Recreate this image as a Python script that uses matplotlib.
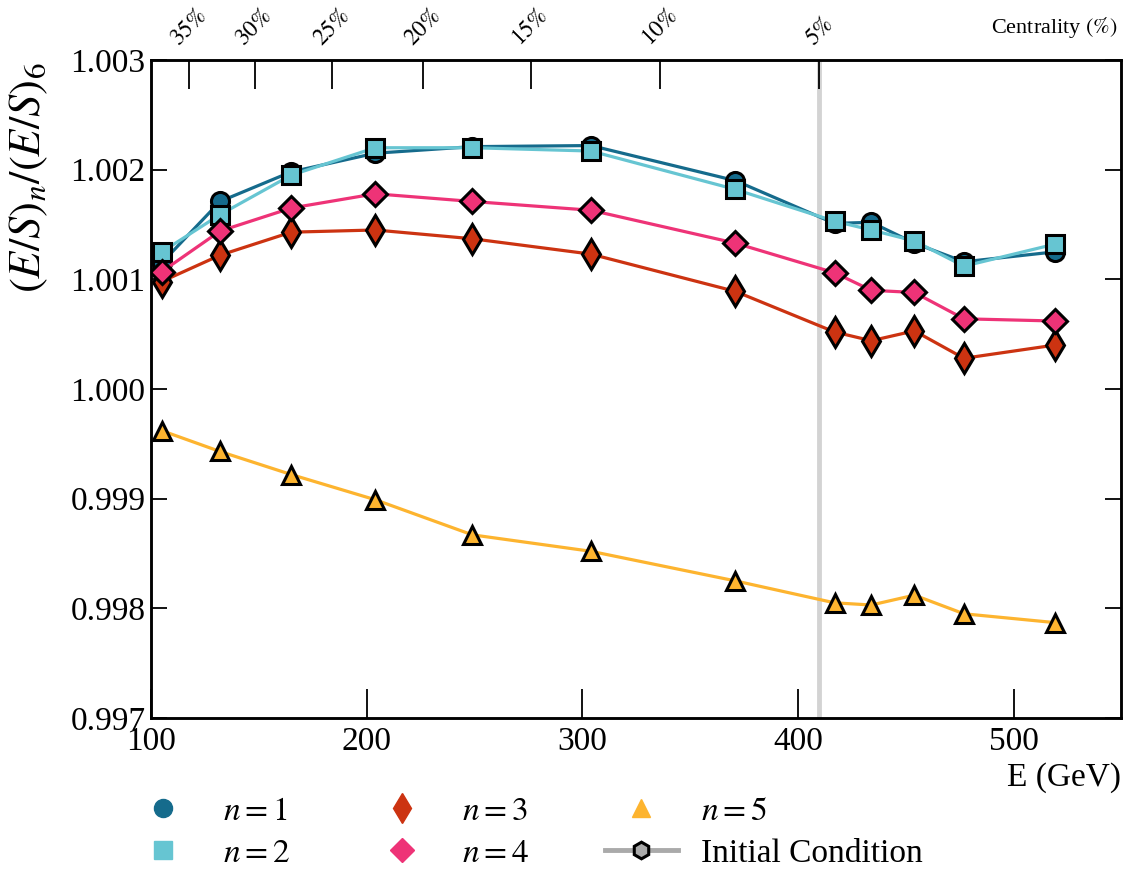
import matplotlib
matplotlib.use('Agg')
import matplotlib.pyplot as plt
from matplotlib.lines import Line2D

plt.rcParams['font.family'] = ['Liberation Serif', 'DejaVu Serif']
plt.rcParams['mathtext.fontset'] = 'stix'

# collision energies and ratios
energy = [105, 132, 165, 204, 249, 304, 371, 417, 434, 454, 477, 519]
ratio_n1 = [1.00115, 1.00171, 1.00198, 1.00215, 1.00221, 1.00222,
            1.00190, 1.00151, 1.00152, 1.00133, 1.00116, 1.00125]
ratio_n2 = [1.00125, 1.00159, 1.00195, 1.00220, 1.00220, 1.00217,
            1.00182, 1.00153, 1.00145, 1.00135, 1.00112, 1.00132]
ratio_n3 = [1.00098, 1.00122, 1.00143, 1.00145, 1.00137, 1.00123,
            1.00089, 1.00052, 1.00044, 1.00053, 1.00028, 1.00040]
ratio_n4 = [1.00107, 1.00144, 1.00165, 1.00178, 1.00171, 1.00163,
            1.00133, 1.00106, 1.00090, 1.00088, 1.00064, 1.00062]
ratio_n5 = [0.99962, 0.99943, 0.99922, 0.99899, 0.99867, 0.99852,
            0.99825, 0.99805, 0.99803, 0.99812, 0.99795, 0.99787]

# top axis: energy where each centrality class sits
centrality_energy = [117.5, 148, 184, 226, 276, 336, 410]
centrality_labels = ['35', '30', '25', '20', '15', '10', '5']
initial_condition_energy = 410

series = [
    (ratio_n1, '#156b8c', 'o', 13, r'$n=1$'),
    (ratio_n2, '#66c5d2', 's', 13, r'$n=2$'),
    (ratio_n3, '#cc3311', 'd', 15, r'$n=3$'),
    (ratio_n4, '#ee3377', 'D', 12, r'$n=4$'),
    (ratio_n5, '#fdb42f', '^', 13, r'$n=5$'),
]

fig = plt.figure(figsize=(11.27, 8.71), dpi=100)
ax = fig.add_axes([0.134, 0.1757, 0.861, 0.7554])

ax.axvline(initial_condition_energy, color='#d3d3d3', lw=3.5, zorder=1)

handles = []
for vals, col, mk, ms, lab in series:
    ax.plot(energy, vals, color=col, lw=2.3, marker=mk, markersize=ms,
            markerfacecolor=col, markeredgecolor='black', markeredgewidth=2.2,
            zorder=3)
    handles.append(Line2D([], [], ls='none', marker=mk, markersize=ms,
                          markerfacecolor=col, markeredgecolor=col, label=lab))
handles.append(Line2D([], [], color='#aaaaaa', lw=3.5, marker='h', markersize=12,
                      markerfacecolor='#aaaaaa', markeredgecolor='black',
                      markeredgewidth=2.2, label='Initial Condition'))

ax.set_xlim(100, 550)
ax.set_ylim(0.997, 1.003)
ax.set_xticks([100, 200, 300, 400, 500])
ax.set_yticks([0.997, 0.998, 0.999, 1.000, 1.001, 1.002, 1.003])
ax.set_yticklabels(['%.3f' % v for v in ax.get_yticks()])
ax.tick_params(axis='x', direction='in', length=21, width=1.3, labelsize=24, pad=6)
ax.tick_params(axis='y', direction='in', length=11.5, width=1.3, labelsize=24,
               right=True, pad=4)
for sp in ax.spines.values():
    sp.set_linewidth(1.8)

ax.set_xlabel('E (GeV)', fontsize=24, loc='right', labelpad=4)
ax.set_ylabel(r'$(E/S)_n/(E/S)_6$', fontsize=32, loc='top')
ax.yaxis.set_label_coords(-0.104, 0.997)

top = ax.twiny()
top.set_xlim(ax.get_xlim())
top.set_xticks(centrality_energy)
top.set_xticklabels([r'$%s\%%$' % c for c in centrality_labels], rotation=45,
                    fontsize=17)
top.tick_params(axis='x', direction='in', length=21, width=1.3, pad=7)
for sp in top.spines.values():
    sp.set_linewidth(1.8)

fig.text(0.992, 0.969, r'Centrality $(\%)$', fontsize=16, ha='right', va='center')

fig.legend(handles=handles, ncol=3, loc='upper left', bbox_to_anchor=(0.100, 0.101),
           frameon=False, fontsize=24, handlelength=2.2, handletextpad=0.7,
           columnspacing=2.27, labelspacing=0.35, borderaxespad=0)

fig.savefig('out.png', dpi=100, facecolor='white')
